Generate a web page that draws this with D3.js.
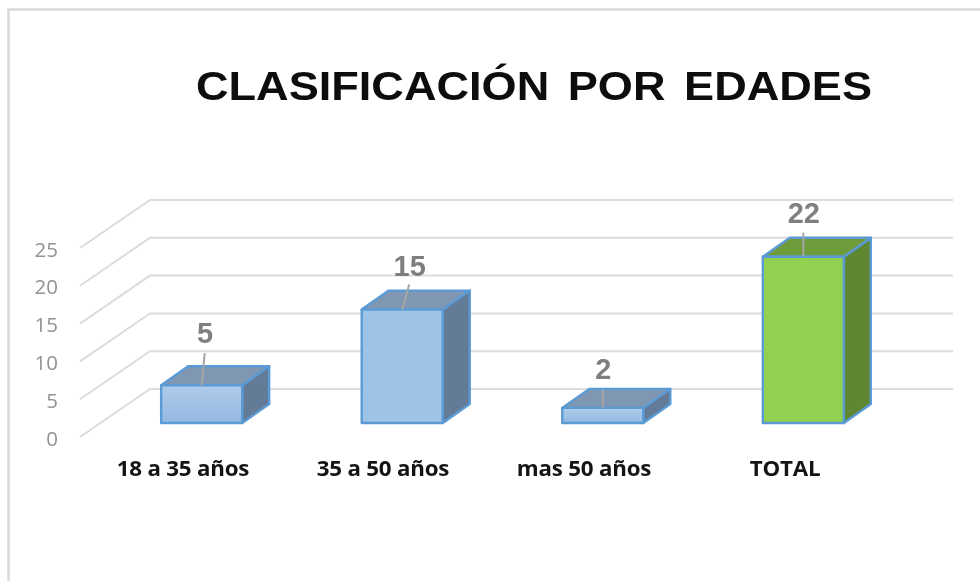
<!DOCTYPE html>
<html><head><meta charset="utf-8">
<script src="https://cdn.jsdelivr.net/npm/d3@7/dist/d3.min.js"></script>
<style>html,body{margin:0;padding:0;background:#fff;overflow:hidden}svg{display:block;filter:blur(0.45px)}</style>
</head><body><svg id="c" width="980" height="581"></svg>
<script>
const categories = ["18 a 35 años","35 a 50 años","mas 50 años","TOTAL"];
const values = [5,15,2,22];
const tickValues = [0,5,10,15,20,25];
const chartTitle = "CLASIFICACIÓN POR EDADES";
const svg = d3.select("#c");
const y = d3.scaleLinear().domain([0,25]).range([423,234]);
const x = d3.scaleBand().domain(categories).range([101,904]).paddingInner(0.596).paddingOuter(0.3);
const barDx = 27, barDy = -19, wallDx = 70, wallDy = -48, floorX = 80, floorY = 437, rightX = 953;
const yFront = v => y(v) + (floorY - 423);

svg.append("rect").attr("x",8.5).attr("y",9.5).attr("width",990).attr("height",600)
  .attr("fill","#fff").attr("stroke","#d9d9d9").attr("stroke-width",2.5);
svg.append("text").text(chartTitle).attr("x",196).attr("y",100)
  .attr("textLength",676).attr("lengthAdjust","spacingAndGlyphs").attr("word-spacing",5.5)
  .attr("font-family","Liberation Sans").attr("font-weight",700).attr("font-size",41).attr("fill","#0d0d0d");

const grid = svg.append("g").attr("fill","none").attr("stroke","#dcdcdc").attr("stroke-width",2);
grid.selectAll("path").data(tickValues).join("path")
  .attr("d",t=>d3.line()([[floorX,yFront(t)],[floorX+wallDx,yFront(t)+wallDy],[rightX,yFront(t)+wallDy]]));

svg.append("g").selectAll("text").data(tickValues).join("text").text(d=>d)
  .attr("x",58).attr("y",d=>yFront(d)+8.5).attr("text-anchor","end")
  .attr("font-family","Open Sans").attr("font-size",20.5).attr("fill","#939393");

const isTotal = i => i===3;
const grad = svg.append("defs").append("linearGradient").attr("id","g1").attr("x1",0).attr("y1",0).attr("x2",0).attr("y2",1);
grad.append("stop").attr("offset",0).attr("stop-color","#afcbe9");
grad.append("stop").attr("offset",1).attr("stop-color","#94b8e2");

const bars = svg.append("g").selectAll("g").data(values).join("g");
const stroke = "#5b9bd5";
const line = d3.line();
function xl(i){return x(categories[i]);}
bars.append("path").attr("d",(d,i)=>{const a=xl(i)+x.bandwidth(),t=y(d),b=y(0);
  return line([[a,t],[a+barDx,t+barDy],[a+barDx,b+barDy],[a,b]])+"Z";})
  .attr("fill",(d,i)=>isTotal(i)?"#5f8731":"#637b96").attr("stroke",stroke).attr("stroke-width",2.4).attr("stroke-linejoin","round");
bars.append("path").attr("d",(d,i)=>{const l=xl(i),a=l+x.bandwidth(),t=y(d);
  return line([[l,t],[l+barDx,t+barDy],[a+barDx,t+barDy],[a,t]])+"Z";})
  .attr("fill",(d,i)=>isTotal(i)?"#6f9b3a":"#7f97b2").attr("stroke",stroke).attr("stroke-width",2.4).attr("stroke-linejoin","round");
bars.append("rect").attr("x",(d,i)=>xl(i)).attr("y",d=>y(d)).attr("width",x.bandwidth()).attr("height",d=>y(0)-y(d))
  .attr("fill",(d,i)=>isTotal(i)?"#90d14f":(i===1?"#9dc3e6":"url(#g1)")).attr("stroke",stroke).attr("stroke-width",2.4).attr("stroke-linejoin","round");

const leaderTilt = [3,7,0,0];
const leaderRise = [32,25,18,24];
const labelGap = [42,34,29,34];
bars.append("line").attr("x1",(d,i)=>xl(i)+x.bandwidth()/2).attr("y1",d=>y(d))
  .attr("x2",(d,i)=>xl(i)+x.bandwidth()/2+leaderTilt[i]).attr("y2",(d,i)=>y(d)-leaderRise[i])
  .attr("stroke","#a6a6a6").attr("stroke-width",2);
bars.append("text").text(d=>d).attr("x",(d,i)=>xl(i)+x.bandwidth()/2+leaderTilt[i]+0.5)
  .attr("y",(d,i)=>y(d)-labelGap[i]).attr("text-anchor","middle")
  .attr("font-family","Liberation Sans").attr("font-weight",700).attr("font-size",29).attr("fill","#7f7f7f");

const labelX = [183,383,584,785];
svg.append("g").selectAll("text").data(categories).join("text").text(d=>d)
  .attr("transform",(d,i)=>`translate(${labelX[i]},475.5) scale(1.09,1)`).attr("text-anchor","middle")
  .attr("font-family","Open Sans").attr("font-weight",700).attr("font-size",20.5).attr("letter-spacing",-0.2).attr("fill","#141414");
</script></body></html>
